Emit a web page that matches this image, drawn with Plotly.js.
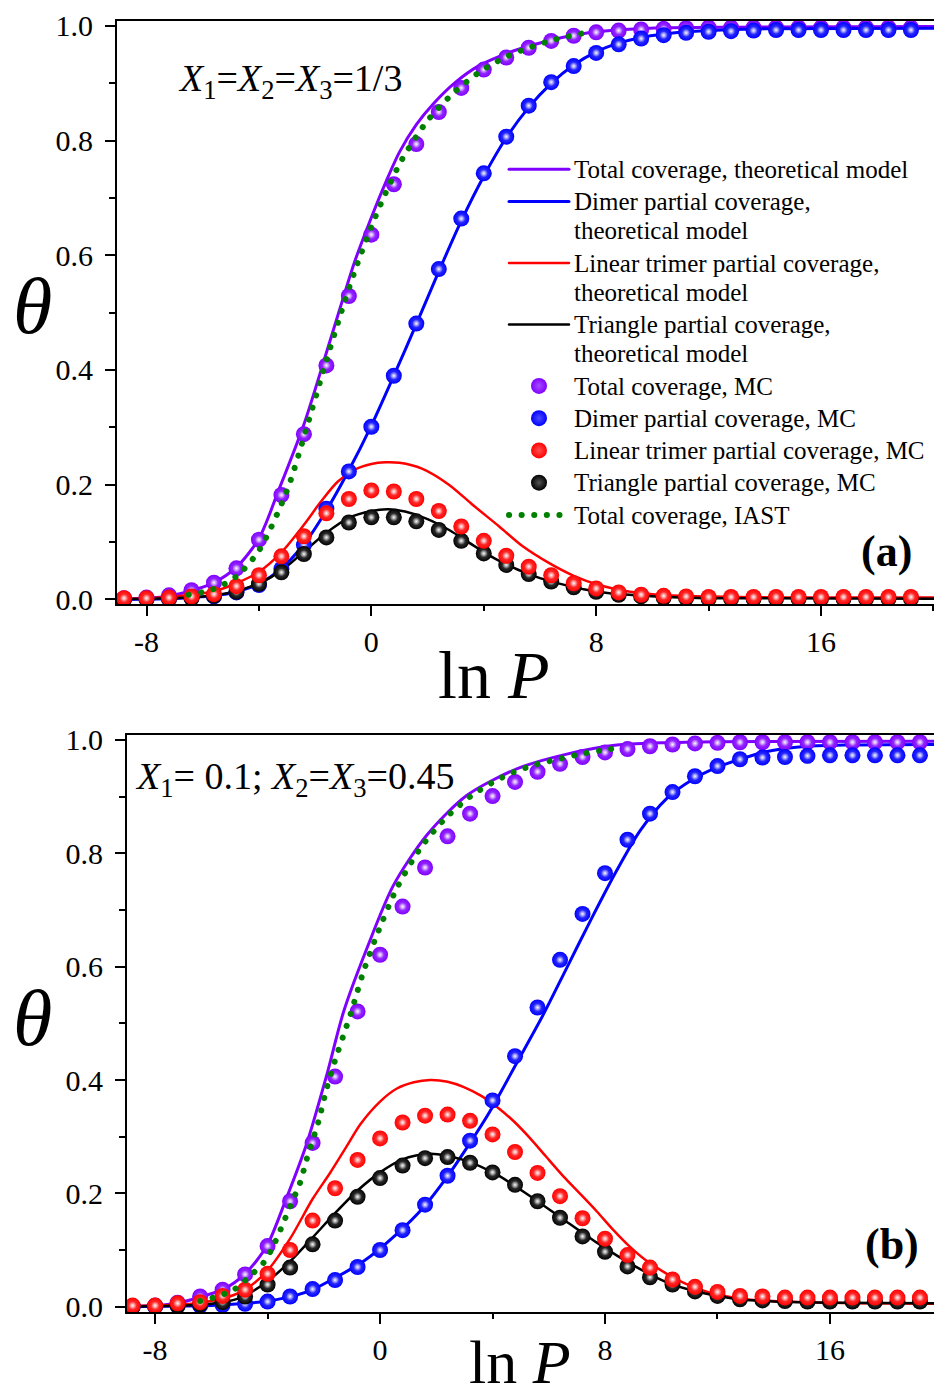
<!DOCTYPE html>
<html>
<head>
<meta charset="utf-8">
<script src="https://cdn.plot.ly/plotly-3.0.1.min.js"></script>
<style>
html,body{margin:0;padding:0;background:#fff;overflow:hidden;}
path.js-line{stroke-linecap:round;}
</style>
</head>
<body>
<div id="chart" style="width:934px;height:1398px;"></div>
<script>
// ---------- shared MC grid (ln P) ----------
const xMC = [-8.8,-8,-7.2,-6.4,-5.6,-4.8,-4,-3.2,-2.4,-1.6,-0.8,0,0.8,1.6,2.4,3.2,4,4.8,5.6,6.4,7.2,8,8.8,9.6,10.4,11.2,12,12.8,13.6,14.4,15.2,16,16.8,17.6,18.4,19.2];

// ---------- panel (a): X1=X2=X3=1/3 ----------
const aTotalMC  = [0.002,0.003,0.007,0.016,0.029,0.054,0.104,0.182,0.288,0.408,0.529,0.636,0.724,0.794,0.850,0.892,0.924,0.945,0.962,0.974,0.983,0.989,0.992,0.994,0.995,0.996,0.997,0.997,0.997,0.997,0.997,0.997,0.997,0.997,0.997,0.997];
const aDimerMC  = [0.000,0.000,0.001,0.002,0.005,0.012,0.025,0.053,0.095,0.158,0.223,0.301,0.390,0.481,0.576,0.664,0.743,0.807,0.861,0.902,0.930,0.953,0.968,0.978,0.984,0.988,0.990,0.991,0.992,0.993,0.993,0.993,0.993,0.993,0.993,0.993];
const aLinearMC = [0.002,0.002,0.003,0.005,0.009,0.023,0.042,0.075,0.110,0.150,0.175,0.190,0.188,0.175,0.154,0.127,0.102,0.076,0.057,0.042,0.028,0.019,0.012,0.008,0.006,0.005,0.004,0.004,0.004,0.004,0.004,0.004,0.004,0.004,0.004,0.004];
const aTriMC    = [0.000,0.000,0.001,0.002,0.006,0.013,0.027,0.047,0.079,0.108,0.134,0.143,0.143,0.136,0.121,0.102,0.080,0.060,0.044,0.031,0.021,0.013,0.008,0.005,0.003,0.002,0.001,0.001,0.001,0.001,0.001,0.001,0.001,0.001,0.001,0.001];

const aTotalThX = [-9,-8,-7.2,-6.4,-5.6,-4.8,-4,-3.3,-2.4,-1.6,-1.1,-0.6,0,0.5,1,1.6,2.2,3,3.8,4.6,5.4,6.2,7,8,9,10.5,13,20.1];
const aTotalThY = [0.000,0.002,0.006,0.015,0.029,0.056,0.106,0.190,0.305,0.430,0.510,0.588,0.666,0.726,0.780,0.828,0.864,0.902,0.930,0.948,0.962,0.973,0.982,0.990,0.994,0.997,0.998,0.999];
const aDimerThX = [-9,-8,-7.2,-6.4,-5.6,-4.8,-4,-3.2,-2.4,-1.6,-0.8,0,0.8,1.6,2.4,3.2,4,4.8,5.6,6.4,7.2,8,8.8,9.6,10.4,11.2,12.5,14,20.1];
const aDimerThY = [0.000,0.000,0.001,0.003,0.006,0.013,0.027,0.054,0.096,0.155,0.225,0.303,0.390,0.480,0.572,0.660,0.738,0.805,0.858,0.900,0.932,0.955,0.970,0.980,0.986,0.990,0.993,0.995,0.996];
const aLinearThX = [-9,-8,-7.2,-6.4,-5.6,-4.8,-4,-3.2,-2.4,-1.8,-1.2,-0.6,0,0.5,1,1.8,2.76,3.6,4.55,5.4,6.33,7.2,8.1,9,10,11,13,16,20.1];
const aLinearThY = [0.001,0.002,0.004,0.008,0.014,0.028,0.048,0.082,0.130,0.170,0.205,0.226,0.236,0.239,0.238,0.228,0.200,0.165,0.127,0.092,0.063,0.041,0.025,0.015,0.009,0.006,0.004,0.003,0.003];
const aTriThX = [-9,-8,-7,-6,-5,-4,-3.2,-2.4,-1.6,-0.8,0,0.6,1.2,2,2.8,3.6,4.4,5.2,6,6.8,7.6,8.4,9.4,10.5,12,20.1];
const aTriThY = [0.000,0.001,0.002,0.005,0.012,0.028,0.050,0.083,0.116,0.142,0.154,0.157,0.153,0.140,0.120,0.095,0.071,0.052,0.037,0.026,0.017,0.011,0.007,0.004,0.002,0.001];
const aIastX = [-6.5,-5.6,-4.8,-4.0,-3.0,-2.3,-1.64,-1.0,-0.5,0,0.5,1.1,2.0,2.9,3.8,4.7,5.6,6.5,7.5];
const aIastY = [0.008,0.018,0.040,0.085,0.190,0.300,0.410,0.512,0.585,0.650,0.708,0.768,0.835,0.882,0.918,0.944,0.962,0.976,0.987];

// ---------- panel (b): X1=0.1; X2=X3=0.45 ----------
const bTotalMC  = [0.001,0.002,0.007,0.018,0.030,0.057,0.107,0.186,0.289,0.406,0.521,0.621,0.706,0.775,0.830,0.870,0.901,0.926,0.944,0.958,0.970,0.978,0.984,0.989,0.992,0.994,0.995,0.996,0.996,0.996,0.996,0.996,0.996,0.996,0.996,0.996];
const bDimerMC  = [0.000,0.000,0.001,0.002,0.003,0.005,0.009,0.018,0.031,0.047,0.070,0.100,0.135,0.180,0.231,0.293,0.364,0.442,0.528,0.612,0.693,0.765,0.824,0.870,0.908,0.936,0.954,0.966,0.969,0.970,0.972,0.973,0.973,0.973,0.973,0.973];
const bLinearMC = [0.002,0.002,0.006,0.008,0.019,0.030,0.058,0.100,0.152,0.209,0.259,0.297,0.325,0.337,0.339,0.328,0.304,0.273,0.236,0.195,0.156,0.120,0.091,0.069,0.048,0.035,0.026,0.019,0.018,0.016,0.016,0.016,0.016,0.016,0.016,0.016];
const bTriMC    = [0.000,0.001,0.002,0.004,0.008,0.018,0.039,0.069,0.110,0.152,0.194,0.227,0.249,0.262,0.264,0.254,0.237,0.215,0.186,0.157,0.124,0.097,0.071,0.052,0.039,0.027,0.019,0.013,0.011,0.010,0.009,0.009,0.009,0.009,0.009,0.009];

const bTotalThX = [-9,-8,-7.2,-6.4,-5.6,-4.8,-4.03,-3.35,-2.6,-1.9,-1.3,-0.47,0.47,1.66,3.08,4.86,6.64,8.42,10,12,19.8];
const bTotalThY = [0.000,0.002,0.006,0.017,0.030,0.058,0.107,0.189,0.289,0.408,0.520,0.632,0.743,0.832,0.902,0.949,0.975,0.991,0.995,0.997,0.998];
const bDimerThX = [-9,-7,-6,-5,-4,-3,-2.4,-1.78,-0.59,0.59,1.54,2.37,3.2,3.91,4.86,5.8,6.64,7.47,8.42,9.25,10.2,11.1,12,12.8,13.6,14.4,15.2,16.5,19.8];
const bDimerThY = [0.000,0.001,0.002,0.005,0.010,0.020,0.030,0.046,0.080,0.128,0.175,0.228,0.289,0.345,0.430,0.515,0.598,0.680,0.770,0.840,0.897,0.930,0.952,0.966,0.978,0.985,0.989,0.991,0.992];
const bLinearThX = [-9,-8,-7,-6.4,-5.6,-4.8,-4,-3.2,-2.4,-1.78,-1.2,-0.7,0,0.6,1.2,1.78,2.4,2.96,3.6,4.15,4.8,5.34,5.9,6.52,7.1,7.71,8.3,8.9,9.5,10.2,10.8,11.4,12,12.6,13.5,15,17,19.8];
const bLinearThY = [0.001,0.002,0.004,0.007,0.014,0.030,0.064,0.120,0.190,0.236,0.282,0.322,0.362,0.385,0.396,0.400,0.397,0.388,0.372,0.353,0.325,0.297,0.265,0.230,0.200,0.168,0.135,0.105,0.080,0.058,0.042,0.030,0.021,0.016,0.011,0.008,0.006,0.005];
const bTriThX = [-9,-8,-7,-6,-5,-4,-3.2,-2.4,-1.6,-0.8,0,0.8,1.78,2.96,4.15,5.34,6.52,7.71,8.9,10.2,11.4,12.6,14,16,19.8];
const bTriThY = [0.000,0.001,0.002,0.005,0.015,0.045,0.080,0.122,0.165,0.205,0.237,0.260,0.270,0.259,0.233,0.195,0.154,0.113,0.076,0.043,0.025,0.014,0.009,0.007,0.006];
const bIastX = [-6.4,-5.93,-5.2,-4.63,-4.15,-3.8,-3.44,-3.2,-2.85,-2.6,-2.19,-1.9,-1.6,-1.3,-1.0,-0.6,-0.12,0.59,1.42,2.25,3.2,4.0,4.74,5.57,6.4,7.2,8.06,8.6];
const bIastY = [0.010,0.016,0.030,0.054,0.077,0.107,0.148,0.177,0.218,0.262,0.327,0.385,0.435,0.479,0.524,0.590,0.655,0.738,0.808,0.858,0.900,0.925,0.943,0.957,0.967,0.976,0.983,0.987];

const legendLines = {
  total: ['Total coverage, theoretical model'],
  dimer: ['Dimer partial coverage,', 'theoretical model'],
  linear: ['Linear trimer partial coverage,', 'theoretical model'],
  tri: ['Triangle partial coverage,', 'theoretical model'],
  totalMC: ['Total coverage, MC'],
  dimerMC: ['Dimer partial coverage, MC'],
  linearMC: ['Linear trimer partial coverage, MC'],
  triMC: ['Triangle partial coverage, MC'],
  iast: ['Total coverage, IAST']
};
function lg(key) {
  return legendLines[key].map(s => '<span style="font-size:25px">' + s + '</span>').join('<br>');
}

const C = {purple:'#8000ff', blue:'#0000ff', red:'#ff0000', black:'#000000', green:'#008000'};
const C2 = {purple:'#a64dff', blue:'#4d4dff', red:'#ff5050', black:'#555555'};

function line(x, y, color, name, rank, xa, ya, show, w) {
  return {type:'scatter', mode:'lines', x:x, y:y, xaxis:xa, yaxis:ya, name:name,
    legendrank:rank, showlegend:show,
    line:{color:color, width:w||3, shape:'spline', smoothing:0.8}, hoverinfo:'skip'};
}
function dots(x, y, name, rank, xa, ya, show) {
  return {type:'scatter', mode:'lines', x:x, y:y, xaxis:xa, yaxis:ya, name:name,
    legendrank:rank, showlegend:show,
    line:{color:C.green, width:6, dash:'0.1px,12.5px', shape:'spline', smoothing:0.8}, hoverinfo:'skip'};
}
function mc(y, key, name, rank, xa, ya, show) {
  return [{type:'scatter', mode:'markers', x:xMC, y:y, xaxis:xa, yaxis:ya, name:name,
    legendrank:rank, showlegend:show,
    marker:{size:16, color:C[key], line:{width:0}, gradient:{type:'radial', color:C2[key]}}, hoverinfo:'skip'},
    {type:'scatter', mode:'markers', x:xMC, y:y, xaxis:xa, yaxis:ya, showlegend:false,
    marker:{size:8, color:'rgba(255,255,255,0)', line:{width:0}, gradient:{type:'radial', color:'rgba(255,255,255,0.95)'}}, hoverinfo:'skip'}];
}

const traces = [
  line(aTotalThX, aTotalThY, C.purple, lg('total'), 1, 'x', 'y', true),
  line(aDimerThX, aDimerThY, C.blue, lg('dimer'), 2, 'x', 'y', true),
  line(aLinearThX, aLinearThY, C.red, lg('linear'), 3, 'x', 'y', true, 2.5),
  line(aTriThX, aTriThY, C.black, lg('tri'), 4, 'x', 'y', true, 2.5),
  ...mc(aTotalMC, 'purple', lg('totalMC'), 5, 'x', 'y', true),
  ...mc(aDimerMC, 'blue', lg('dimerMC'), 6, 'x', 'y', true),
  ...mc(aTriMC, 'black', lg('triMC'), 8, 'x', 'y', true),
  ...mc(aLinearMC, 'red', lg('linearMC'), 7, 'x', 'y', true),
  dots(aIastX, aIastY, lg('iast'), 9, 'x', 'y', true),

  line(bTotalThX, bTotalThY, C.purple, 'b1', 1, 'x2', 'y2', false),
  line(bDimerThX, bDimerThY, C.blue, 'b2', 2, 'x2', 'y2', false),
  line(bLinearThX, bLinearThY, C.red, 'b3', 3, 'x2', 'y2', false, 2.5),
  line(bTriThX, bTriThY, C.black, 'b4', 4, 'x2', 'y2', false, 2.5),
  ...mc(bTotalMC, 'purple', 'b5', 5, 'x2', 'y2', false),
  ...mc(bDimerMC, 'blue', 'b6', 6, 'x2', 'y2', false),
  ...mc(bTriMC, 'black', 'b8', 8, 'x2', 'y2', false),
  ...mc(bLinearMC, 'red', 'b7', 7, 'x2', 'y2', false),
  dots(bIastX, bIastY, 'b9', 9, 'x2', 'y2', false)
];

const F = 'Liberation Serif, Times New Roman, serif';
const W = 934, H = 1398;
function xax(domain, range, anchor) {
  return {domain:domain, range:range, anchor:anchor, showline:true, linewidth:2, linecolor:'#000', mirror:true,
    ticks:'outside', ticklen:10, tickwidth:2, tickcolor:'#000', tickvals:[-8,0,8,16], ticktext:['-8','0','8','16'],
    minor:{tickvals:[-4,4,12,20], ticks:'outside', ticklen:5, tickwidth:2, tickcolor:'#000'},
    tickfont:{family:F, size:30, color:'#000'}, showgrid:false, zeroline:false, ticklabelstandoff:0};
}
function yax(domain, range, anchor) {
  return {domain:domain, range:range, anchor:anchor, showline:true, linewidth:2, linecolor:'#000', mirror:false,
    ticks:'outside', ticklen:10, tickwidth:2, tickcolor:'#000', tickvals:[0,0.2,0.4,0.6,0.8,1.0],
    ticktext:['0.0','0.2','0.4','0.6','0.8','1.0'],
    minor:{tickvals:[0.1,0.3,0.5,0.7,0.9], ticks:'outside', ticklen:6, tickwidth:2, tickcolor:'#000'},
    tickfont:{family:F, size:30, color:'#000'}, showgrid:false, zeroline:false, ticklabelstandoff:6};
}

const layout = {
  width:W, height:H, margin:{l:0, r:0, t:0, b:0}, paper_bgcolor:'#fff', plot_bgcolor:'#fff',
  font:{family:F, color:'#000'},
  xaxis: xax([117/W, 1], [-9.05, 20.02], 'y'),
  yaxis: yax([1-604.3/H, 1-21/H], [-0.0087, 1.0087], 'x'),
  xaxis2: xax([127/W, 1], [-9.0, 19.70], 'y2'),
  yaxis2: yax([1-1312.3/H, 1-735/H], [-0.0099, 1.0088], 'x2'),
  showlegend:true,
  legend:{x:504/W, y:1-148/H, xanchor:'left', yanchor:'top', bgcolor:'rgba(0,0,0,0)', borderwidth:0,
    font:{family:F, size:22.5, color:'#000'}, itemwidth:60, tracegroupgap:0, valign:'top',
    traceorder:'normal', itemclick:false},
  annotations:[
    {xref:'paper', yref:'paper', x:32/W, y:1-306/H, xanchor:'center', yanchor:'middle', showarrow:false,
     text:'<i>θ</i>', font:{family:F, size:80, color:'#000'}},
    {xref:'paper', yref:'paper', x:493/W, y:1-675/H, xanchor:'center', yanchor:'middle', showarrow:false,
     text:'ln <i>P</i>', font:{family:F, size:68, color:'#000'}},
    {xref:'paper', yref:'paper', x:32/W, y:1-1018/H, xanchor:'center', yanchor:'middle', showarrow:false,
     text:'<i>θ</i>', font:{family:F, size:80, color:'#000'}},
    {xref:'paper', yref:'paper', x:520/W, y:1-1362/H, xanchor:'center', yanchor:'middle', showarrow:false,
     text:'ln <i>P</i>', font:{family:F, size:62, color:'#000'}},
    {xref:'paper', yref:'paper', x:176/W, y:1-81/H, xanchor:'left', yanchor:'middle', showarrow:false,
     text:'<i>X</i><sub>1</sub>=<i>X</i><sub>2</sub>=<i>X</i><sub>3</sub>=1/3', font:{family:F, size:38, color:'#000'}},
    {xref:'paper', yref:'paper', x:133/W, y:1-779/H, xanchor:'left', yanchor:'middle', showarrow:false,
     text:'<i>X</i><sub>1</sub>= 0.1; <i>X</i><sub>2</sub>=<i>X</i><sub>3</sub>=0.45', font:{family:F, size:38, color:'#000'}},
    {xref:'paper', yref:'paper', x:886/W, y:1-551/H, xanchor:'center', yanchor:'middle', showarrow:false,
     text:'<b>(a)</b>', font:{family:F, size:44, color:'#000'}},
    {xref:'paper', yref:'paper', x:892/W, y:1-1244/H, xanchor:'center', yanchor:'middle', showarrow:false,
     text:'<b>(b)</b>', font:{family:F, size:44, color:'#000'}}
  ]
};

Plotly.newPlot('chart', traces, layout, {displayModeBar:false, staticPlot:true});
</script>
</body>
</html>
